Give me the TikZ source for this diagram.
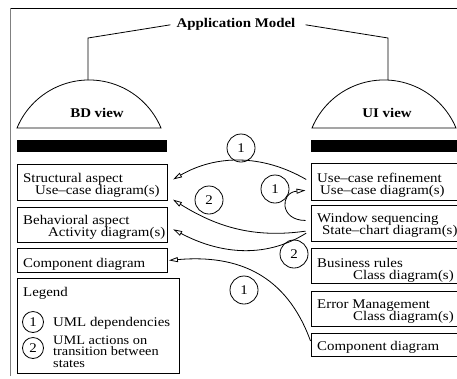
\documentclass[tikz,border=0pt]{standalone}
\usepackage{fontspec}
\setmainfont{Liberation Serif}[FakeStretch=1.12]
\usetikzlibrary{arrows.meta,calc}
\begin{document}
\begin{tikzpicture}[x=1pt,y=1pt,
  font=\fontsize{13.3}{12}\selectfont,
  box/.style={draw, line width=0.9pt, anchor=north west, inner sep=0pt},
  bar/.style={fill=black, anchor=north west, inner sep=0pt},
  txt/.style={anchor=base west, inner sep=0pt},
  ttl/.style={anchor=base, inner sep=0pt, font=\fontsize{13.3}{12}\selectfont\bfseries},
  num/.style={draw, circle, minimum size=28pt, inner sep=0pt, line width=0.8pt},
  lnum/.style={num, minimum size=21pt},
  arr/.style={-{Triangle[open, length=9pt, width=5pt]}, line width=0.8pt, shorten <=5pt, shorten >=6pt},
  thin/.style={line width=0.8pt}]
\useasboundingbox (0,0) rectangle (457,-378);
\clip (0,0) rectangle (457,-378);
% frame
\draw[line width=1pt] (10,-8) -- (460,-8);
\draw[gray, line width=1.8pt] (10.5,-8) -- (10.5,-376);
% title and views
\node[ttl, inner xsep=8pt] (am) at (236,-27) {Application Model};
\coordinate (bdtop) at (88,-80);
\coordinate (uitop) at (388,-80);
\draw[thin] ($(am.west)+(2,-1)$) -- (88,-38) -- (bdtop);
\draw[thin] ($(am.east)+(2,-1)$) -- (388,-38) -- (uitop);
\draw[thin] (17,-128) arc[start angle=157.4, end angle=22.6, radius=78] -- cycle;
\draw[thin] (312,-128) arc[start angle=157.4, end angle=22.6, radius=78] -- cycle;
\node[ttl] (bd) at (97,-117) {BD view};
\node[ttl] (ui) at (387,-117) {UI view};
% bars
\node[bar, minimum width=150pt, minimum height=12pt] (barl) at (17,-140) {};
\node[bar, minimum width=160pt, minimum height=12pt] (barr) at (310.5,-140) {};
% left boxes
\node[box, minimum width=150pt, minimum height=36pt] (st) at (17,-164) {};
\node[txt] (st1) at (23,-182) {Structural aspect};
\node[txt] (st2) at (35,-194) {Use--case diagram(s)};
\node[box, minimum width=150pt, minimum height=35pt] (be) at (17,-207) {};
\node[txt] (be1) at (23,-224) {Behavioral aspect};
\node[txt] (be2) at (48,-236) {Activity diagram(s)};
\node[box, minimum width=150pt, minimum height=24pt] (cl) at (17,-248) {};
\node[txt] (cl1) at (23,-267) {Component diagram};
% legend
\node[box, minimum width=162pt, minimum height=95pt] (lg) at (17,-278) {};
\node[txt] (lg0) at (23,-296) {Legend};
\node[lnum] (lc1) at (33,-322) {1};
\node[txt] (lt1) at (53,-326) {UML dependencies};
\node[lnum] (lc2) at (33,-348) {2};
\node[txt, align=left, font=\fontsize{12.8}{11.6}\selectfont] (lt2) at (53,-367.5) {UML actions on\\transition between\\states};
% right boxes
\node[box, minimum width=160pt, minimum height=37pt] (ucr) at (310.5,-163) {};
\node[txt] (ucr1) at (317,-182) {Use--case refinement};
\node[txt] (ucr2) at (320,-194) {Use--case diagram(s)};
\node[box, minimum width=160pt, minimum height=36pt] (ws) at (310.5,-205) {};
\node[txt] (ws1) at (317,-222) {Window sequencing};
\node[txt] (ws2) at (322,-234) {State--chart diagram(s)};
\node[box, minimum width=160pt, minimum height=35pt] (br) at (310.5,-248) {};
\node[txt] (br1) at (317,-267) {Business rules};
\node[txt] (br2) at (353,-279) {Class diagram(s)};
\node[box, minimum width=160pt, minimum height=35pt] (em) at (310.5,-291) {};
\node[txt] (em1) at (317,-308) {Error Management};
\node[txt] (em2) at (353,-320) {Class diagram(s)};
\node[box, minimum width=160pt, minimum height=23pt] (cr) at (310.5,-333) {};
\node[txt] (cr1) at (317,-350) {Component diagram};
% circles
\node[num] (n1a) at (241,-148) {1};
\node[num] (n2a) at (209,-200) {2};
\node[num] (n1b) at (275,-189) {1};
\node[num] (n2b) at (294,-254) {2};
\node[num] (n1c) at (244,-290) {1};
% connectors
\draw[arr] (ucr.west) to[out=150, in=30] (st.east);
\draw[arr] ($(ws.west)+(0,-7)$) to[out=188, in=-32] ($(st.east)+(0,-14)$);
\draw[arr] ($(ws.west)+(0,-7)$) to[out=212, in=-28] ($(be.east)+(0,-1.5)$);
\draw[arr, shorten <=5pt, shorten >=5pt] ($(ws.west)+(0,3)$) to[out=180, in=185, looseness=2.6] ($(ucr.west)+(0,-8)$);
\draw[arr, shorten <=0pt, shorten >=1pt] ($(cr.west)+(0,4)$) to[out=110, in=5, looseness=1.1] (cl.east);
\end{tikzpicture}
\end{document}
